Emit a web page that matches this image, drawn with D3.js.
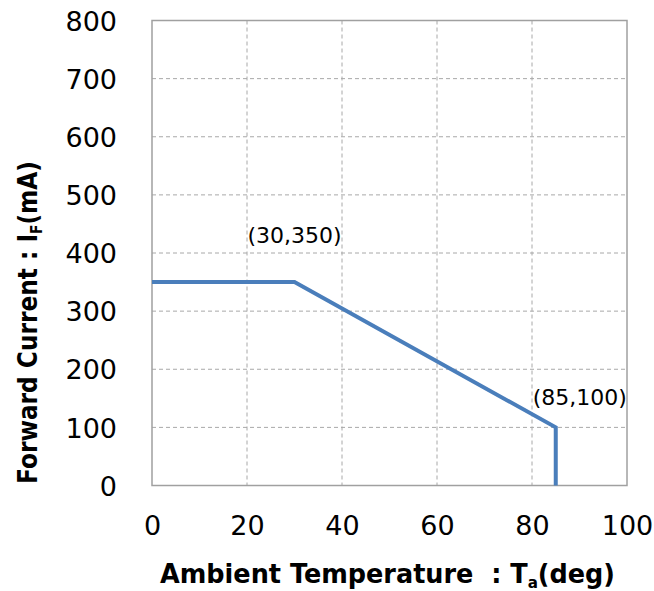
<!DOCTYPE html>
<html>
<head>
<meta charset="utf-8">
<script src="https://cdn.jsdelivr.net/npm/d3@7"></script>
<style>
  html, body { margin: 0; padding: 0; background: #fff; }
  svg { display: block; }
</style>
</head>
<body>
<svg id="chart" width="654" height="591"></svg>
<script>
// Derating curve: forward current vs ambient temperature
const tempPts = [0, 30, 85, 85];          // deg
const currentPts = [350, 350, 100, 0];    // mA
const xTicks = [0, 20, 40, 60, 80, 100];
const yTicks = [0, 100, 200, 300, 400, 500, 600, 700, 800];
const notes = [
  { t: 30, i: 350, label: '(30,350)' },
  { t: 85, i: 100, label: '(85,100)' }
];

(function(){
  const svg = d3.select('#chart');
  const m = { left: 152, top: 20.5, right: 27, bottom: 105.5 };
  const W = 654 - m.left - m.right;
  const H = 591 - m.top - m.bottom;
  const font = '"DejaVu Sans", sans-serif';

  const x = d3.scaleLinear().domain([0, 100]).range([0, W]);
  const y = d3.scaleLinear().domain([0, 800]).range([H, 0]);

  const g = svg.append('g').attr('transform', `translate(${m.left},${m.top})`);

  // dashed grid
  g.append('g')
    .selectAll('line')
    .data(yTicks.filter(v => v > 0 && v < 800))
    .enter().append('line')
    .attr('x1', 0).attr('x2', W)
    .attr('y1', d => y(d)).attr('y2', d => y(d))
    .attr('stroke', '#a8a8a8').attr('stroke-width', 1)
    .attr('stroke-dasharray', '4,3');
  g.append('g')
    .selectAll('line')
    .data(xTicks.filter(v => v > 0 && v < 100))
    .enter().append('line')
    .attr('x1', d => x(d)).attr('x2', d => x(d))
    .attr('y1', 0).attr('y2', H)
    .attr('stroke', '#a8a8a8').attr('stroke-width', 1)
    .attr('stroke-dasharray', '4,3');

  // plot frame
  g.append('rect')
    .attr('x', 0).attr('y', 0).attr('width', W).attr('height', H)
    .attr('fill', 'none').attr('stroke', '#a0a0a0').attr('stroke-width', 1.5);

  // axes (labels only)
  const xAxis = g.append('g')
    .attr('transform', `translate(0,${H})`)
    .call(d3.axisBottom(x).tickValues(xTicks).tickSize(0).tickPadding(36));
  const yAxis = g.append('g')
    .call(d3.axisLeft(y).tickValues(yTicks).tickSize(0).tickPadding(35));
  [xAxis, yAxis].forEach(a => {
    a.select('.domain').remove();
    a.selectAll('text')
      .attr('font-family', font).attr('font-size', 27).attr('fill', '#000');
  });
  yAxis.selectAll('text').attr('dy', '0.36em');
  xAxis.selectAll('text').attr('dy', '0.5em');

  // curve
  const line = d3.line().x(d => x(d[0])).y(d => y(d[1]));
  g.append('path')
    .datum(d3.zip(tempPts, currentPts))
    .attr('d', line)
    .attr('fill', 'none')
    .attr('stroke', '#4a7ebb')
    .attr('stroke-width', 4);

  // point labels
  g.append('text')
    .attr('x', x(notes[0].t) - 47).attr('y', y(notes[0].i) - 39)
    .attr('font-family', font).attr('font-size', 22).attr('fill', '#000')
    .text(notes[0].label);
  g.append('text')
    .attr('x', x(notes[1].t) - 23).attr('y', y(notes[1].i) - 22)
    .attr('font-family', font).attr('font-size', 22).attr('fill', '#000')
    .text(notes[1].label);

  // axis titles
  const xt = svg.append('text')
    .attr('x', 160).attr('y', 583)
    .attr('font-family', font).attr('font-size', 27).attr('font-weight', 'bold')
    .attr('fill', '#000').style('white-space', 'pre')
    .attr('textLength', 455).attr('lengthAdjust', 'spacingAndGlyphs');
  xt.append('tspan').text('Ambient Temperature  : T');
  xt.append('tspan').attr('font-size', 16).attr('dy', 5).text('a');
  xt.append('tspan').attr('dy', -5).text('(deg)');

  const yt = svg.append('text')
    .attr('transform', 'translate(37,484) rotate(-90)')
    .attr('font-family', font).attr('font-size', 27).attr('font-weight', 'bold')
    .attr('fill', '#000')
    .attr('textLength', 323).attr('lengthAdjust', 'spacingAndGlyphs');
  yt.append('tspan').text('Forward Current : I');
  yt.append('tspan').attr('font-size', 16).attr('dy', 5).text('F');
  yt.append('tspan').attr('dy', -5).text('(mA)');
})();
</script>
</body>
</html>
